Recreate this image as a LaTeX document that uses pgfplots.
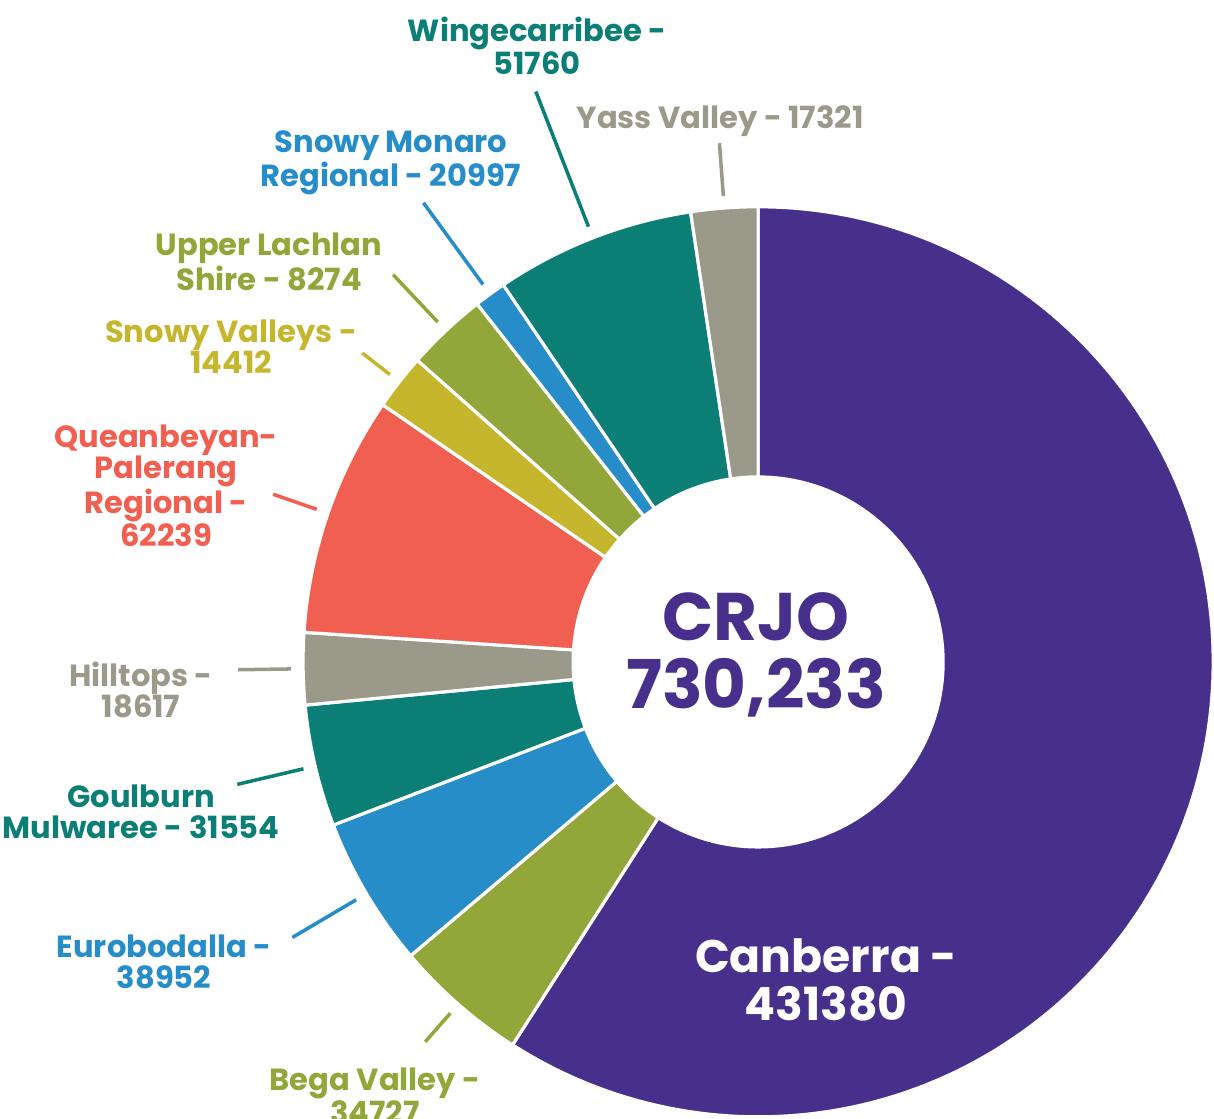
\documentclass[border=0pt]{standalone}
\usepackage{fontspec}
\setmainfont{Poppins}
\usepackage{pgfplots}
\pgfplotsset{compat=1.18}
\usepackage{pgfplotstable}
\definecolor{cPurple}{HTML}{472F8C}
\definecolor{cTeal}{HTML}{0B7E76}
\definecolor{cBlue}{HTML}{278DC9}
\definecolor{cOlive}{HTML}{93A63A}
\definecolor{cGray}{HTML}{9B998A}
\definecolor{cCoral}{HTML}{F15F50}
\definecolor{cYellow}{HTML}{C6B62E}
% clockwise from 12 o'clock, as drawn in the reference
\pgfplotstableread{
value col lr
431380 cPurple 0
34727 cOlive 505
38952 cBlue 541
31554 cTeal 535
18617 cGray 520
62239 cCoral 513
14412 cYellow 502
20997 cOlive 532
8274 cBlue 568
51760 cTeal 612
17321 cGray 520
}\slices
\def\cx{758}\def\cy{457}\def\Ro{455}\def\Ri{185}
\newcommand{\lab}{\fontsize{17.4}{17.6}\selectfont\bfseries}
\begin{document}
\begin{tikzpicture}
\path[use as bounding box, clip] (0,0) rectangle (24.28cm,22.38cm);
\begin{axis}[at={(0,0)}, anchor=south west, x=0.02cm, y=0.02cm,
  xmin=0, xmax=1214, ymin=0, ymax=1119, hide axis, clip=false]
\pgfplotsextra{%
  \def\total{0}%
  \pgfplotsforeachungrouped \i in {0,...,10}{%
    \pgfplotstablegetelem{\i}{value}\of\slices
    \edef\total{\fpeval{\total+\pgfplotsretval}}}%
  \def\cum{0}%
  \pgfplotsforeachungrouped \i in {0,...,10}{%
    \pgfplotstablegetelem{\i}{value}\of\slices \edef\v{\pgfplotsretval}%
    \pgfplotstablegetelem{\i}{col}\of\slices \edef\c{\pgfplotsretval}%
    \pgfplotstablegetelem{\i}{lr}\of\slices \edef\lr{\pgfplotsretval}%
    \edef\aa{\fpeval{90-360*\cum/\total}}%
    \edef\cum{\fpeval{\cum+\v}}%
    \edef\ab{\fpeval{90-360*\cum/\total}}%
    \edef\am{\fpeval{(\aa+\ab)/2}}%
    \edef\xa{\fpeval{\cx+\Ri*cosd(\aa)}}\edef\ya{\fpeval{\cy+\Ri*sind(\aa)}}%
    \edef\xb{\fpeval{\cx+\Ro*cosd(\aa)}}\edef\yb{\fpeval{\cy+\Ro*sind(\aa)}}%
    \edef\xc{\fpeval{\cx+\Ri*cosd(\ab)}}\edef\yc{\fpeval{\cy+\Ri*sind(\ab)}}%
    \edef\rro{\fpeval{\Ro*0.02}}\edef\rri{\fpeval{\Ri*0.02}}%
    \fill[\c, draw=white, line width=1.8pt, line join=round]
      (axis cs:\xa,\ya) -- (axis cs:\xb,\yb)
      arc[start angle=\aa, end angle=\ab, radius=\rro cm]
      -- (axis cs:\xc,\yc)
      arc[start angle=\ab, end angle=\aa, radius=\rri cm] -- cycle;
    \ifnum\lr>0
      \edef\xl{\fpeval{\cx+467*cosd(\am)}}\edef\yl{\fpeval{\cy+467*sind(\am)}}%
      \edef\xm{\fpeval{\cx+\lr*cosd(\am)}}\edef\ym{\fpeval{\cy+\lr*sind(\am)}}%
      \draw[\c, line width=2pt] (axis cs:\xl,\yl) -- (axis cs:\xm,\ym);
    \fi
  }%
}
\tikzset{lbl/.style={align=center, inner sep=0pt, font=\lab}}
\node[lbl, text=cTeal] at (axis cs:537,1073) {Wingecarribee -\\51760};
\node[lbl, text=cGray] at (axis cs:720,998) {Yass Valley - 17321};
\node[lbl, text=cBlue] at (axis cs:391,956) {Snowy Monaro\\Regional - 20997};
\node[lbl, text=cOlive] at (axis cs:269,857) {Upper Lachlan\\Shire - 8274};
\node[lbl, text=cYellow] at (axis cs:231,772) {Snowy Valleys -\\14412};
\node[lbl, text=cCoral] at (axis cs:166,633) {Queanbeyan-\\Palerang\\Regional -\\62239};
\node[lbl, text=cGray] at (axis cs:141,429) {Hilltops -\\18617};
\node[lbl, text=cTeal] at (axis cs:141,307) {Goulburn\\Mulwaree - 31554};
\node[lbl, text=cBlue] at (axis cs:164,157) {Eurobodalla -\\38952};
\node[lbl, text=cOlive] at (axis cs:375,23) {Bega Valley -\\34727};
\node[align=center, inner sep=0pt, text=white, font=\fontsize{26}{27}\selectfont\bfseries] at (axis cs:826,139) {Canberra -\\431380};
\node[align=center, inner sep=0pt, text=cPurple, font=\fontsize{38.3}{38.5}\selectfont\bfseries] at (axis cs:756,464) {CRJO\\730,233};
\end{axis}
\end{tikzpicture}
\end{document}
